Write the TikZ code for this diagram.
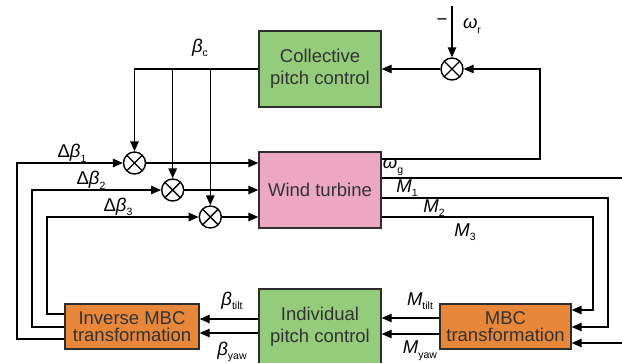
\documentclass[tikz,border=0pt]{standalone}
\usepackage{fontspec}
\setmainfont{Liberation Sans}
\usetikzlibrary{arrows.meta,positioning,calc}
\definecolor{ctrlgreen}{RGB}{148,204,124}
\definecolor{plantpink}{RGB}{236,168,194}
\definecolor{mbcorange}{RGB}{232,134,58}
\definecolor{edgegray}{RGB}{45,45,45}
\newcommand{\sigsub}[2]{\textit{#1}\raisebox{-0.25em}{\fontsize{10.5}{10.5}\selectfont #2}}
\tikzset{
    block/.style={
        rectangle, draw=edgegray, line width=1.4pt, inner sep=0pt,
        align=center, text=black!80,
        font=\fontsize{18.5}{22}\selectfont
    },
    control/.style={block, fill=ctrlgreen, minimum width=122pt, minimum height=76pt},
    plant/.style={block, fill=plantpink, minimum width=122pt, minimum height=76pt},
    mbcbox/.style={block, fill=mbcorange, minimum height=45pt,
        font=\fontsize{18.5}{17.5}\selectfont},
    sumnode/.style={
        circle, draw=black, line width=1.4pt, minimum size=22pt, inner sep=0pt,
        path picture={
            \draw[line width=1.4pt]
                (path picture bounding box.north west) -- (path picture bounding box.south east)
                (path picture bounding box.north east) -- (path picture bounding box.south west);
        }
    },
    arrow/.style={-{Triangle[length=10pt,width=8.5pt]}, line width=1.4pt},
    siglabel/.style={inner sep=0pt, font=\fontsize{18.5}{18.5}\selectfont}
}
\begin{document}
\begin{tikzpicture}[x=1pt, y=-1pt]
\useasboundingbox (0,0) rectangle (622,362);
\clip (0,0) rectangle (622,362);

%% Blocks (pixel grid, y pointing down)
\node[control] (coll) at (320, 69) {Collective\\pitch control};
\node[plant]   (wt)   at (320,190) {Wind turbine};
\node[control, minimum height=75pt] (ipc) at (320,326.5) {Individual\\pitch control};
\node[mbcbox, minimum width=134pt] (imbc) at (132,326.5) {Inverse MBC\\transformation};
\node[mbcbox, minimum width=131pt] (mbc)  at (505.5,326.5) {MBC\\transformation};

%% Adders: three blade channels and the speed error
\node[sumnode] (s1) at (134.5,163) {};
\node[sumnode] (s2) at (172.7,190) {};
\node[sumnode] (s3) at (210.3,217) {};
\node[sumnode] (s4) at (452, 69) {};

%% Bend points of the loops
\coordinate (wref) at (452,6);
\coordinate (wgc)  at (540,159);
\coordinate (m1c)  at (630,178);
\coordinate (m2c)  at (608,198);
\coordinate (m3c)  at (593,217);
\coordinate (d1c)  at (17,163);
\coordinate (d2c)  at (32,190);
\coordinate (d3c)  at (47,217);

%% Speed loop
\draw[arrow] (wref) -- (s4.north);
\draw[arrow] (s4.west) -- (coll.east);
\draw[arrow] (wt.east |- wgc) -- (wgc) |- (s4.east);

%% Collective pitch to the three adders
\draw[arrow] (coll.west) -| (s1.north);
\draw[arrow] (s2 |- coll.west) -- (s2.north);
\draw[arrow] (s3 |- coll.west) -- (s3.north);

%% Adders into the turbine
\draw[arrow] (s1.east) -- (wt.west |- s1);
\draw[arrow] (s2.east) -- (wt.west |- s2);
\draw[arrow] (s3.east) -- (wt.west |- s3);

%% Blade moments to MBC
\draw[arrow] (wt.east |- m1c) -- (m1c) |- ([yshift=-16.5pt]mbc.east);
\draw[arrow] (wt.east |- m2c) -- (m2c) |- ([yshift=-0.5pt]mbc.east);
\draw[arrow] (wt.east |- m3c) -- (m3c) |- ([yshift=16.5pt]mbc.east);

%% MBC -> IPC -> inverse MBC
\draw[arrow] ([yshift=8.5pt]mbc.west)  -- ([yshift=8.5pt]ipc.east);
\draw[arrow] ([yshift=-7.5pt]mbc.west) -- ([yshift=-7.5pt]ipc.east);
\draw[arrow] ([yshift=7.5pt]ipc.west)  -- ([yshift=7.5pt]imbc.east);
\draw[arrow] ([yshift=-6.5pt]ipc.west) -- ([yshift=-6.5pt]imbc.east);

%% Inverse MBC back to the adders
\draw[arrow] ([yshift=-12.5pt]imbc.west) -| (d1c) -- (s1.west);
\draw[arrow] ([yshift=-0.5pt]imbc.west)  -| (d2c) -- (s2.west);
\draw[arrow] ([yshift=12.5pt]imbc.west)  -| (d3c) -- (s3.west);

%% Signal labels
\node[siglabel] (lbc)    at (200, 48) {\sigsub{β}{c}};
\node[siglabel] (lminus) at (442, 22) {−};
\node[siglabel] (lwr)    at (472, 26) {\sigsub{ω}{r}};
\node[siglabel] (lwg)    at (393,167) {\sigsub{ω}{g}};
\node[siglabel] (lm1)    at (407,188) {\sigsub{M}{1}};
\node[siglabel] (lm2)    at (434,208) {\sigsub{M}{2}};
\node[siglabel] (lm3)    at (465,232) {\sigsub{M}{3}};
\node[siglabel] (ld1)    at (72,153)  {Δ\sigsub{β}{1}};
\node[siglabel] (ld2)    at (91,180)  {Δ\sigsub{β}{2}};
\node[siglabel] (ld3)    at (118,207) {Δ\sigsub{β}{3}};
\node[siglabel] (lbtilt) at (232,301) {\sigsub{β}{tilt}};
\node[siglabel] (lbyaw)  at (232,352) {\sigsub{β}{yaw}};
\node[siglabel] (lmtilt) at (420,301) {\sigsub{M}{tilt}};
\node[siglabel] (lmyaw)  at (420,351) {\sigsub{M}{yaw}};

\end{tikzpicture}
\end{document}
